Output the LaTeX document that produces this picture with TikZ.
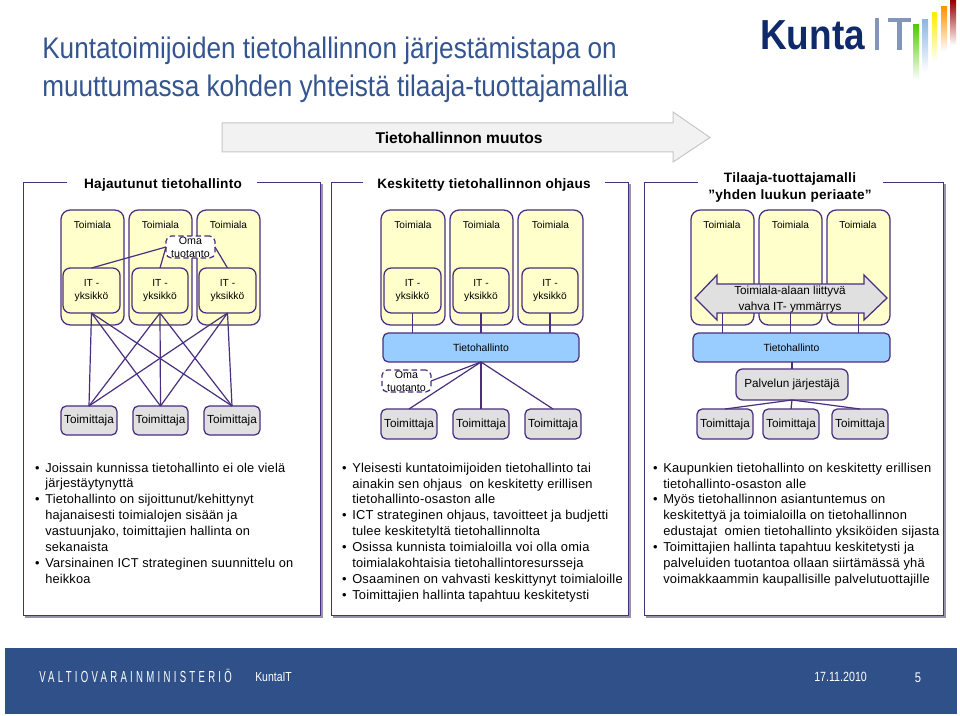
\documentclass[tikz,border=0pt]{standalone}
\usepackage{fontspec}
\setmainfont{Liberation Sans}
\newfontfamily\titlefont[FakeStretch=0.88]{Liberation Sans}
\newfontfamily\bodyfont[LetterSpace=1.5]{Liberation Sans}
\newfontfamily\headfont[LetterSpace=2]{Liberation Sans}
\newfontfamily\vmfont[FakeStretch=0.6,LetterSpace=20.5]{Liberation Sans}
\newfontfamily\smallfoot[FakeStretch=0.8]{Liberation Sans}
\newfontfamily\logofont[FakeStretch=0.88]{Liberation Sans}
\definecolor{frame}{HTML}{4A2F80}
\definecolor{shadowc}{HTML}{9A94A8}
\definecolor{yel}{HTML}{FFFFCC}
\definecolor{gre}{HTML}{E0E0E0}
\definecolor{blu}{HTML}{99CCFF}
\definecolor{band}{HTML}{2F5088}
\definecolor{ttl}{HTML}{35558F}
\definecolor{kunta}{HTML}{0F2A6B}
\definecolor{ktgray}{HTML}{8496B8}
\tikzset{
  base/.style={draw=frame,line width=0.95pt,inner sep=0pt,outer sep=0pt,align=center,text=black},
  toimiala/.style={base,fill=yel,rounded corners=7pt},
  itbox/.style={base,fill=yel,rounded corners=5.5pt,font=\fontsize{7.7pt}{10pt}\selectfont},
  supplier/.style={base,fill=gre,rounded corners=4pt,font=\fontsize{8.8pt}{11pt}\selectfont},
  tietobox/.style={base,fill=blu,rounded corners=4pt,font=\fontsize{7.8pt}{10pt}\selectfont},
  orgbox/.style={base,fill=gre,rounded corners=5pt,font=\fontsize{8.8pt}{11pt}\selectfont},
  omabox/.style={base,fill=white,dashed,dash pattern=on 4pt off 2.5pt,rounded corners=4pt,font=\fontsize{8pt}{9.6pt}\selectfont},
  lbl/.style={inner sep=0pt,text=black,align=center},
  alabel/.style={lbl,font=\fontsize{7.6pt}{10pt}\selectfont},
  phead/.style={lbl,font=\headfont\bfseries\fontsize{10.2pt}{12.75pt}\selectfont},
  link/.style={draw=frame,line width=0.9pt},
  bodytext/.style={inner sep=0pt,anchor=north west,align=left,text=black,font=\bodyfont\fontsize{9.68pt}{11.95pt}\selectfont},
  pframe/.style={draw=frame,line width=0.6pt},
  pshadow/.style={draw=shadowc,line width=2.2pt},
}
\newcommand{\bx}[7][]{\node[#2,minimum width={(#5-#3)*0.75pt},minimum height={(#6-#4)*0.75pt},#1] (#7) at ({(#3+#5)/2},{(#4+#6)/2}) {};}
\newcommand{\bxt}[8][]{\node[#2,minimum width={(#5-#3)*0.75pt},minimum height={(#6-#4)*0.75pt},#1] (#7) at ({(#3+#5)/2},{(#4+#6)/2}) {#8};}
\newcommand{\panel}[4]{% x1 x2 gapL gapR
  \draw[pshadow] (#2+2,184) -- (#2+2,617) -- (#1+2,617);
  \fill[white] (#1,182) rectangle (#2,615);
  \draw[pframe] (#3,182) -- (#1,182) -- (#1,615) -- (#2,615) -- (#2,182) -- (#4,182);
}
\newcommand{\bl}{\llap{\textbullet\hspace{4.2pt}}}
\begin{document}
\begin{tikzpicture}[x=0.75pt,y=-0.75pt]
\useasboundingbox (0,0) rectangle (960,716);
\fill[white] (0,0) rectangle (960,716);

% title
\node[inner sep=0pt,anchor=west,text=ttl,font=\titlefont\fontsize{22.3pt}{28pt}\selectfont] (title1) at (42,51) {Kuntatoimijoiden tietohallinnon järjestämistapa on};
\node[inner sep=0pt,anchor=west,text=ttl,font=\titlefont\fontsize{22.3pt}{28pt}\selectfont] (title2) at (42,89) {muuttumassa kohden yhteistä tilaaja-tuottajamallia};

% logo
\node[inner sep=0pt,anchor=base west,text=kunta,font=\logofont\bfseries\fontsize{31.5pt}{35pt}\selectfont] (logoa) at (760,50) {Kunta};
\fill[ktgray] (875,18) rectangle (879,50);
\fill[ktgray] (888,18) rectangle (911,22);
\fill[ktgray] (897,18) rectangle (902,50);
\shade[top color=green!60!yellow!80!black,bottom color=white] (913,25) rectangle (919,80);
\shade[top color=blu!90!black,bottom color=white] (922,20) rectangle (928,72);
\shade[top color=yellow!85!orange,bottom color=white] (932,13) rectangle (937,62);
\shade[top color=orange!85!yellow,bottom color=white] (941,7) rectangle (947,52);
\shade[top color=red!60!black,bottom color=white] (950,1) rectangle (956,45);

% big arrow
\path[draw=black!22,fill=black!5,line width=0.75pt] (222,123) -- (673,123) -- (673,112) -- (710,137.5) -- (673,162) -- (673,152) -- (222,152) -- cycle;
\node[lbl,font=\bfseries\fontsize{11.7pt}{13pt}\selectfont] (muutos) at (459,138) {Tietohallinnon muutos};

% panel frames
\panel{23}{320}{67}{257}
\panel{331}{628}{363}{605}
\panel{644}{943}{698}{883}
\node[phead] (h1) at (163,185) {Hajautunut tietohallinto};
\node[phead] (h2) at (484,185) {Keskitetty tietohallinnon ohjaus};
\node[phead] (h3) at (790,187) {Tilaaja-tuottajamalli\\”yhden luukun periaate”};

% ---- panel 1
\bx{toimiala}{61}{210}{124}{325}{a1}
\bx{toimiala}{129}{210}{192}{325}{a2}
\bx{toimiala}{197}{210}{260}{325}{a3}
\node[alabel] (a1l) at (92.5,224.5) {Toimiala};
\node[alabel] (a2l) at (160.5,224.5) {Toimiala};
\node[alabel] (a3l) at (228.5,224.5) {Toimiala};
\bxt{itbox}{63}{268}{120}{313}{i1}{IT -\\yksikkö}
\bxt{itbox}{132}{268}{188}{313}{i2}{IT -\\yksikkö}
\bxt{itbox}{199}{268}{256}{313}{i3}{IT -\\yksikkö}
\bxt{supplier}{61}{406}{117}{435}{s1}{Toimittaja}
\bxt{supplier}{133}{406}{188}{435}{s2}{Toimittaja}
\bxt{supplier}{204}{406}{260}{435}{s3}{Toimittaja}
\foreach \p in {i1,i2,i3}\foreach \q in {s1,s2,s3}{\draw[link] (\p.south) -- (\q.north);}
\bxt{omabox}{166}{236}{215}{258}{o1}{Oma\\tuotanto}
\draw[link] (i1.north) -- (o1.west);
\draw[link] (i2.north) -- (o1.west);
\draw[link] (i3.north) -- (o1.east);

% ---- panel 2
\bx{toimiala}{381}{210}{445}{325}{b1}
\bx{toimiala}{450}{210}{513}{325}{b2}
\bx{toimiala}{518}{210}{583}{325}{b3}
\node[alabel] (b1l) at (413,224.5) {Toimiala};
\node[alabel] (b2l) at (481.5,224.5) {Toimiala};
\node[alabel] (b3l) at (550.5,224.5) {Toimiala};
\bxt{itbox}{384}{268}{441}{313}{j1}{IT -\\yksikkö}
\bxt{itbox}{453}{268}{509}{313}{j2}{IT -\\yksikkö}
\bxt{itbox}{522}{268}{578}{313}{j3}{IT -\\yksikkö}
\bxt{tietobox}{383}{333}{579}{362}{tb}{Tietohallinto}
\draw[link] (j1.south) -- (j1.south |- tb.north);
\draw[link] (j2.south) -- (j2.south |- tb.north);
\draw[link] (j3.south) -- (j3.south |- tb.north);
\bxt{omabox}{382}{370}{431}{392}{o2}{Oma\\tuotanto}
\bxt{supplier}{381}{409}{437}{439}{u1}{Toimittaja}
\bxt{supplier}{453}{409}{509}{439}{u2}{Toimittaja}
\bxt{supplier}{525}{409}{581}{439}{u3}{Toimittaja}
\draw[link] (tb.south) -- (o2.east);
\draw[link] (tb.south) -- (u1.north);
\draw[link] (tb.south) -- (u2.north);
\draw[link] (tb.south) -- (u3.north);

% ---- panel 3
\bx{toimiala}{691}{210}{754}{325}{c1}
\bx{toimiala}{759}{210}{822}{325}{c2}
\bx{toimiala}{827}{210}{890}{325}{c3}
\node[alabel] (c1l) at (722,224.5) {Toimiala};
\node[alabel] (c2l) at (790.5,224.5) {Toimiala};
\node[alabel] (c3l) at (858,224.5) {Toimiala};
\path[draw=frame,fill=gre,line width=0.95pt] (695,298) -- (717,275) -- (717,284) -- (864,284) -- (864,275) -- (887,298) -- (864,320) -- (864,313) -- (717,313) -- (717,320) -- cycle;
\coordinate (ab) at (790,313);
\node[lbl,font=\fontsize{8.8pt}{12pt}\selectfont] (ymm) at (790,299) {Toimiala-alaan liittyvä\\vahva IT- ymmärrys};
\bxt{tietobox}{693}{333}{890}{362}{tc}{Tietohallinto}
\draw[link] (c1.south |- ab) -- (c1.south |- tc.north);
\draw[link] (c2.south |- ab) -- (c2.south |- tc.north);
\draw[link] (c3.south |- ab) -- (c3.south |- tc.north);
\bxt{orgbox}{736}{369}{848}{400}{pj}{Palvelun järjestäjä}
\draw[link] (tc.south -| pj.north) -- (pj.north);
\bxt{supplier}{697}{409}{753}{439}{v1}{Toimittaja}
\bxt{supplier}{763}{409}{819}{439}{v2}{Toimittaja}
\bxt{supplier}{832}{409}{888}{439}{v3}{Toimittaja}
\draw[link] (pj.south) -- (v1.north);
\draw[link] (pj.south) -- (v2.north);
\draw[link] (pj.south) -- (v3.north);

% ---- body texts
\node[bodytext,font=\bodyfont\fontsize{9.6pt}{11.95pt}\selectfont] (t1) at (45,462.5) {\bl Joissain kunnissa tietohallinto ei ole vielä\\järjestäytynyttä\\\bl Tietohallinto on sijoittunut/kehittynyt\\hajanaisesti toimialojen sisään ja\\vastuunjako, toimittajien hallinta on\\sekanaista\\\bl Varsinainen ICT strateginen suunnittelu on\\heikkoa};
\node[bodytext] (t2) at (352,462.5) {\bl Yleisesti kuntatoimijoiden tietohallinto tai\\ainakin sen ohjaus\ \ on keskitetty erillisen\\tietohallinto-osaston alle\\\bl ICT strateginen ohjaus, tavoitteet ja budjetti\\tulee keskitetyltä tietohallinnolta\\\bl Osissa kunnista toimialoilla voi olla omia\\toimialakohtaisia tietohallintoresursseja\\\bl Osaaminen on vahvasti keskittynyt toimialoille\\\bl Toimittajien hallinta tapahtuu keskitetysti};
\node[bodytext] (t3) at (663,462.5) {\bl Kaupunkien tietohallinto on keskitetty erillisen\\tietohallinto-osaston alle\\\bl Myös tietohallinnon asiantuntemus on\\keskitettyä ja toimialoilla on tietohallinnon\\edustajat\ \ omien tietohallinto yksiköiden sijasta\\\bl Toimittajien hallinta tapahtuu keskitetysti ja\\palveluiden tuotantoa ollaan siirtämässä yhä\\voimakkaammin kaupallisille palvelutuottajille};

% footer
\fill[band] (5,648) rectangle (957,714);
\node[inner sep=0pt,anchor=west,text=white,font=\vmfont\fontsize{12pt}{13pt}\selectfont] (vm) at (39,676) {VALTIOVARAINMINISTERIÖ};
\node[inner sep=0pt,anchor=west,text=white,font=\smallfoot\fontsize{9.8pt}{12pt}\selectfont] (kit) at (255,677) {KuntaIT};
\node[inner sep=0pt,anchor=west,text=white,font=\smallfoot\fontsize{10pt}{12pt}\selectfont] (dat) at (814,677) {17.11.2010};
\node[inner sep=0pt,text=white,font=\smallfoot\fontsize{10.5pt}{12pt}\selectfont] (pg) at (918,678) {5};
\end{tikzpicture}
\end{document}
